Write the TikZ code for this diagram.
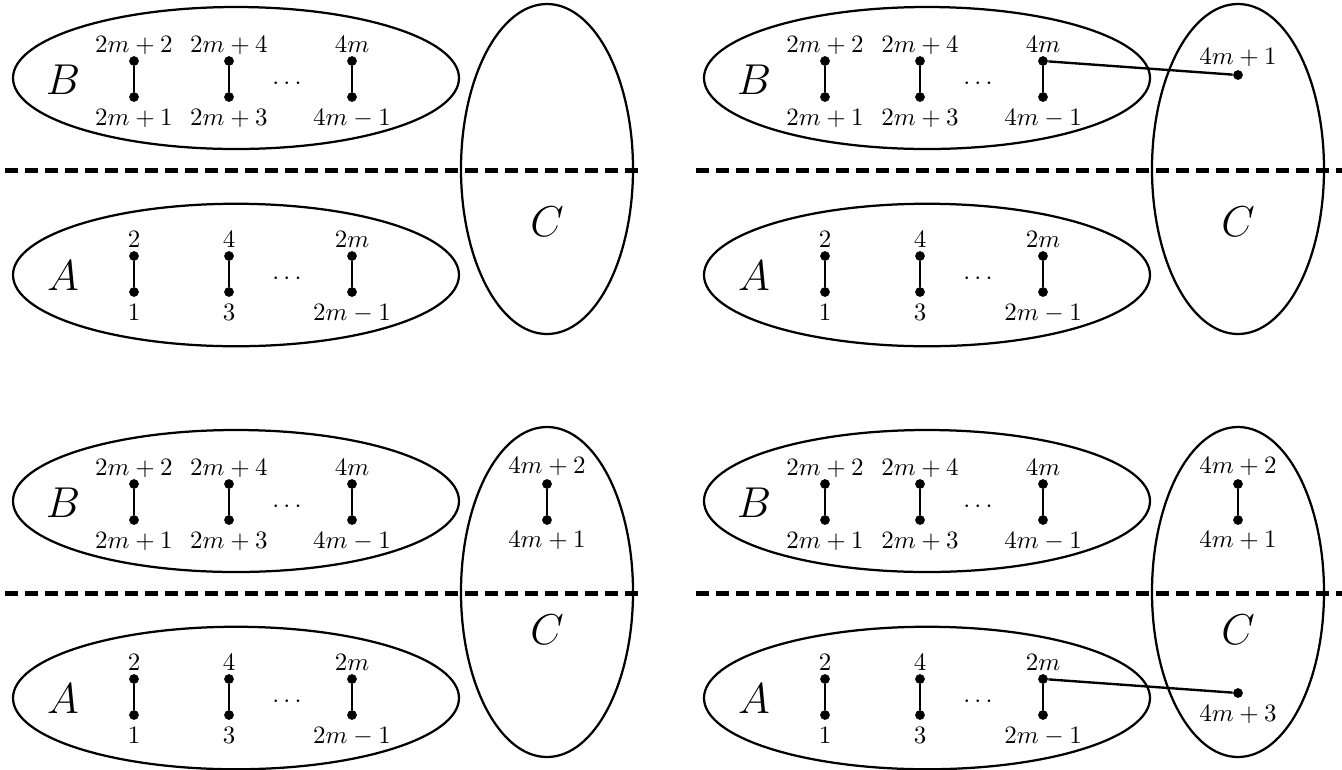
\documentclass[tikz,border=0pt]{standalone}
\tikzset{
  vtx/.style={circle,fill=black,inner sep=0pt,minimum size=3.9pt},
  lab/.style={inner sep=0pt,text height=6.5pt,text depth=0pt,font=\normalsize},
  setname/.style={inner sep=0pt,font=\LARGE},
  dotsnode/.style={inner sep=0pt,anchor=base},
  edge/.style={line width=0.95pt},
  setline/.style={line width=0.9pt},
  divider/.style={line width=2pt,dash pattern=on 5.2pt off 2.8pt},
}
% one panel: sets A, B, C with the matchings of A and B; #1 = name prefix
\newcommand\basepanel[1]{%
  \draw[setline] (236,78) ellipse [x radius=89.2pt, y radius=28.4pt];
  \draw[setline] (236,275) ellipse [x radius=89.2pt, y radius=28.5pt];
  \draw[setline] (547,169) ellipse [x radius=34.4pt, y radius=66pt];
  \node[setname] (#1B) at (63,80) {$B$};
  \node[setname] (#1A) at (63,276) {$A$};
  \node[dotsnode] (#1bd) at (287,89) {$\cdots$};
  \node[dotsnode] (#1ad) at (287,284) {$\cdots$};
  % B
  \node[vtx] (#1bt1) at (134,61) {};
  \node[vtx] (#1bb1) at (134,97) {};
  \node[vtx] (#1bt2) at (229,61) {};
  \node[vtx] (#1bb2) at (229,97) {};
  \node[vtx] (#1bt3) at (352,61) {};
  \node[vtx] (#1bb3) at (352,97) {};
  \node[lab] (#1lbt1) at (134,44) {$2m+2$};
  \node[lab] (#1lbt2) at (229,44) {$2m+4$};
  \node[lab] (#1lbt3) at (352,44) {$4m$};
  \node[lab] (#1lbb1) at (134,117) {$2m+1$};
  \node[lab] (#1lbb2) at (229,117) {$2m+3$};
  \node[lab] (#1lbb3) at (352,117) {$4m-1$};
  \draw[edge] (#1bt1) -- (#1bb1);
  \draw[edge] (#1bt2) -- (#1bb2);
  \draw[edge] (#1bt3) -- (#1bb3);
  % A
  \node[vtx] (#1at1) at (134,256) {};
  \node[vtx] (#1ab1) at (134,292) {};
  \node[vtx] (#1at2) at (229,256) {};
  \node[vtx] (#1ab2) at (229,292) {};
  \node[vtx] (#1at3) at (352,256) {};
  \node[vtx] (#1ab3) at (352,292) {};
  \node[lab] (#1lat1) at (134,239) {$2$};
  \node[lab] (#1lat2) at (229,239) {$4$};
  \node[lab] (#1lat3) at (352,239) {$2m$};
  \node[lab] (#1lab1) at (134,312) {$1$};
  \node[lab] (#1lab2) at (229,312) {$3$};
  \node[lab] (#1lab3) at (352,312) {$2m-1$};
  \draw[edge] (#1at1) -- (#1ab1);
  \draw[edge] (#1at2) -- (#1ab2);
  \draw[edge] (#1at3) -- (#1ab3);
}
\begin{document}
\begin{tikzpicture}[x=0.4pt,y=-0.4pt]
\fill[white] (0,0) rectangle (1342,769);
\useasboundingbox (0,0) rectangle (1342,769);
% dividers
\draw[divider] (5,170) -- (644,170);
\draw[divider] (696,170) -- (1342,170);
\draw[divider] (5,593) -- (644,593);
\draw[divider] (696,593) -- (1342,593);
% top left
\basepanel{p1}
\node[setname] (p1C) at (547,222) {$C$};
% top right
\begin{scope}[shift={(691,0)}]
\basepanel{p2}
\node[setname] (p2C) at (547,222) {$C$};
\node[vtx] (p2c1) at (547,75) {};
\node[lab] (p2lc1) at (547,56) {$4m+1$};
\draw[edge] (p2bt3) -- (p2c1);
\end{scope}
% bottom left
\begin{scope}[shift={(0,423)}]
\basepanel{p3}
\node[setname] (p3C) at (547,207) {$C$};
\node[vtx] (p3ct) at (547,61) {};
\node[vtx] (p3cb) at (547,97) {};
\node[lab] (p3lct) at (547,42) {$4m+2$};
\node[lab] (p3lcb) at (547,116) {$4m+1$};
\draw[edge] (p3ct) -- (p3cb);
\end{scope}
% bottom right
\begin{scope}[shift={(691,423)}]
\basepanel{p4}
\node[setname] (p4C) at (547,207) {$C$};
\node[vtx] (p4ct) at (547,61) {};
\node[vtx] (p4cb) at (547,97) {};
\node[lab] (p4lct) at (547,42) {$4m+2$};
\node[lab] (p4lcb) at (547,116) {$4m+1$};
\draw[edge] (p4ct) -- (p4cb);
\node[vtx] (p4c3) at (547,270) {};
\node[lab] (p4lc3) at (547,290) {$4m+3$};
\draw[edge] (p4at3) -- (p4c3);
\end{scope}
\end{tikzpicture}
\end{document}
